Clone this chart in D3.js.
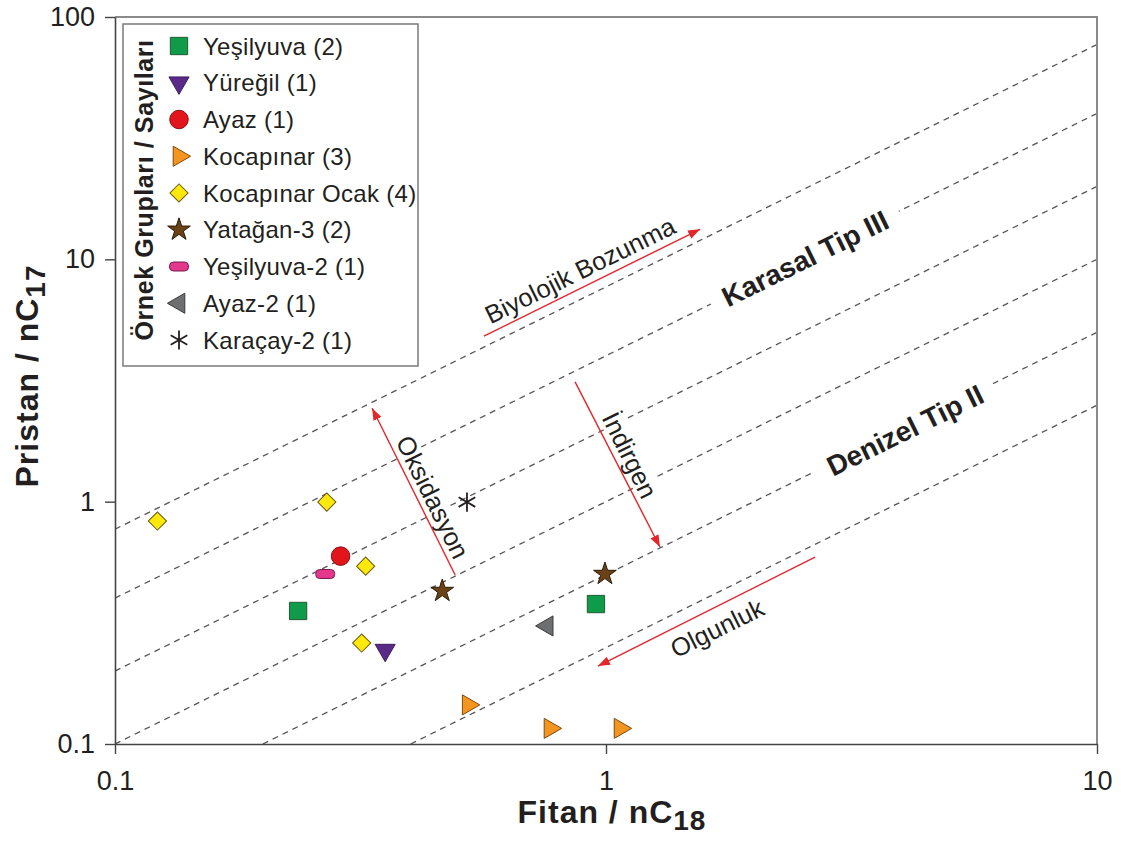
<!DOCTYPE html>
<html lang="tr">
<head>
<meta charset="utf-8">
<script src="https://cdn.jsdelivr.net/npm/d3@7"></script>
<style>
  html, body { margin: 0; padding: 0; background: #fff; }
  svg { display: block; font-family: "Liberation Sans", Arial, Helvetica, sans-serif; }
</style>
</head>
<body>
<svg id="chart" width="1121" height="849"></svg>
<script>
// ---- Data: Fitan/nC18 (x) and Pristan/nC17 (y) per sample group ----
const groupNames = [
  "Yeşilyuva (2)", "Yüreğil (1)", "Ayaz (1)", "Kocapınar (3)", "Kocapınar Ocak (4)",
  "Yatağan-3 (2)", "Yeşilyuva-2 (1)", "Ayaz-2 (1)", "Karaçay-2 (1)"
];
const fitanYesilyuva = [0.236, 0.954];       const pristanYesilyuva = [0.354, 0.378];
const fitanYuregil = [0.355];                const pristanYuregil = [0.244];
const fitanAyaz = [0.288];                   const pristanAyaz = [0.596];
const fitanKocapinar = [0.524, 0.769, 1.068]; const pristanKocapinar = [0.145, 0.116, 0.116];
const fitanKocapinarOcak = [0.122, 0.270, 0.324, 0.318];
const pristanKocapinarOcak = [0.832, 0.996, 0.542, 0.261];
const fitanYatagan3 = [0.464, 0.995];        const pristanYatagan3 = [0.428, 0.503];
const fitanYesilyuva2 = [0.268];             const pristanYesilyuva2 = [0.503];
const fitanAyaz2 = [0.759];                  const pristanAyaz2 = [0.307];
const fitanKaracay2 = [0.521];               const pristanKaracay2 = [0.996];

// Constant Pr/nC17 : Ph/nC18 ratio guide lines
const guideRatios = [7.7, 4, 2, 1, 0.5, 0.25];

// Axis ticks
const xTicks = [0.1, 1, 10];
const yTicks = [0.1, 1, 10, 100];
const xTickLabels = ["0.1", "1", "10"];
const yTickLabels = ["0.1", "1", "10", "100"];

// Interpretation arrows: [x0, y0, x1, y1] in data units, arrow head at the end
const arrowNames = ["Biyolojik Bozunma", "Oksidasyon", "İndirgen", "Olgunluk"];
const arrowFrom = [[0.564, 4.82], [0.493, 0.498], [0.865, 3.12], [2.666, 0.591]];
const arrowTo = [[1.554, 13.3], [0.334, 2.43], [1.288, 0.65], [0.963, 0.2097]];
const arrowLabelAt = [[0.885, 9.03], [0.444, 1.045], [1.119, 1.557], [1.683, 0.301]];

// Field labels
const fieldNames = ["Karasal Tip III", "Denizel Tip II"];
const fieldLabelAt = [[2.543, 10.1], [4.064, 1.975]];

// ---- Styles ----
const groupX = [fitanYesilyuva, fitanYuregil, fitanAyaz, fitanKocapinar, fitanKocapinarOcak,
  fitanYatagan3, fitanYesilyuva2, fitanAyaz2, fitanKaracay2];
const groupY = [pristanYesilyuva, pristanYuregil, pristanAyaz, pristanKocapinar, pristanKocapinarOcak,
  pristanYatagan3, pristanYesilyuva2, pristanAyaz2, pristanKaracay2];
const groupShapes = ["square", "triDown", "circle", "triRight", "diamond", "star", "pill", "triLeft", "asterisk"];
const groupColors = ["#0f9b4a", "#5b2a88", "#e3151c", "#f3951f", "#ffe80c", "#6a4216", "#e3388c", "#6e6f71", "#231f20"];
const groupStrokes = ["#1f5a34", "#3d1d5e", "#8a1014", "#7a4a10", "#6b5a10", "#2c1b08", "#7a1c4a", "#3a3a3a", "#231f20"];

const textColor = "#231f20";
const red = "#e3262b";

const svg = d3.select("#chart");
const W = 1121, H = 849;
const plot = { left: 115, right: 1097, top: 17, bottom: 744 };

const x = d3.scaleLog().domain([0.1, 10]).range([plot.left, plot.right]);
const y = d3.scaleLog().domain([0.1, 100]).range([plot.bottom, plot.top]);

// Screen-space angle of a 1:1 line in log-log space
const lineAngle = Math.atan2(y(10) - y(1), x(10) - x(1)) * 180 / Math.PI; // negative
const perpAngle = lineAngle + 90;

svg.append("rect").attr("width", W).attr("height", H).attr("fill", "#fff");

// Arrow head marker
const defs = svg.append("defs");
defs.append("marker")
  .attr("id", "arrowhead")
  .attr("markerUnits", "userSpaceOnUse")
  .attr("markerWidth", 13).attr("markerHeight", 10)
  .attr("refX", 12).attr("refY", 4.5)
  .attr("orient", "auto")
  .append("path").attr("d", "M0,0 L12,4.5 L0,9 Z").attr("fill", red);

defs.append("clipPath").attr("id", "plotclip")
  .append("rect")
  .attr("x", plot.left).attr("y", plot.top)
  .attr("width", plot.right - plot.left).attr("height", plot.bottom - plot.top);

// ---- Guide lines ----
const guides = svg.append("g").attr("clip-path", "url(#plotclip)");
guideRatios.forEach(k => {
  const x0 = Math.max(0.1, 0.1 / k), x1 = Math.min(10, 100 / k);
  guides.append("line")
    .attr("x1", x(x0)).attr("y1", y(k * x0))
    .attr("x2", x(x1)).attr("y2", y(k * x1))
    .attr("stroke", "#555").attr("stroke-width", 1.3)
    .attr("stroke-dasharray", "6,5");
});

// ---- Frame and axes ----
svg.append("path")
  .attr("d", `M${plot.left},${plot.top}H${plot.right}V${plot.bottom}`)
  .attr("fill", "none").attr("stroke", "#8a8a8a").attr("stroke-width", 2);

const xAxis = svg.append("g")
  .attr("transform", `translate(0,${plot.bottom})`)
  .call(d3.axisBottom(x).tickValues(xTicks).tickFormat((d, i) => xTickLabels[i])
    .tickSize(10).tickSizeOuter(0).tickPadding(17));
const yAxis = svg.append("g")
  .attr("transform", `translate(${plot.left},0)`)
  .call(d3.axisLeft(y).tickValues(yTicks).tickFormat((d, i) => yTickLabels[i])
    .tickSize(10).tickSizeOuter(0).tickPadding(10));

[xAxis, yAxis].forEach(a => {
  a.attr("font-size", null).attr("font-family", null);
  a.select(".domain").attr("stroke", "#444").attr("stroke-width", 1.6);
  a.selectAll(".tick line").attr("stroke", "#444").attr("stroke-width", 1.4);
  a.selectAll(".tick text").attr("fill", textColor).style("font-size", "27px")
    .style("font-family", "'Liberation Sans', Arial, sans-serif");
});

// Axis titles
const xTitle = svg.append("text")
  .attr("x", 612).attr("y", 823)
  .attr("text-anchor", "middle")
  .attr("fill", textColor).style("font-size", "32px").style("font-weight", "bold")
  .style("letter-spacing", "1px");
xTitle.append("tspan").text("Fitan / nC");
xTitle.append("tspan").attr("dy", 7).style("font-size", "28px").text("18");

const yTitle = svg.append("text")
  .attr("transform", "translate(38,376) rotate(-90)")
  .attr("text-anchor", "middle")
  .attr("fill", textColor).style("font-size", "32px").style("font-weight", "bold")
  .style("letter-spacing", "1px");
yTitle.append("tspan").text("Pristan / nC");
yTitle.append("tspan").attr("dy", 7).style("font-size", "28px").text("17");

// ---- Labels with a white backing that interrupts the guide lines ----
function backedLabel(px, py, angle, label, size, weight, pad) {
  const g = svg.append("g").attr("transform", `translate(${px},${py}) rotate(${angle})`);
  const bg = g.append("rect").attr("fill", "#fff");
  const t = g.append("text")
    .attr("text-anchor", "middle").attr("dy", "0.36em")
    .attr("fill", textColor)
    .style("font-size", size + "px").style("font-weight", weight)
    .text(label);
  const b = t.node().getBBox();
  bg.attr("x", b.x - pad).attr("y", b.y + 2)
    .attr("width", b.width + 2 * pad).attr("height", b.height - 4);
  return g;
}

fieldNames.forEach((name, i) => {
  backedLabel(x(fieldLabelAt[i][0]), y(fieldLabelAt[i][1]), lineAngle, name, 28, "bold", 14);
});

const arrowLabelAngles = [lineAngle, perpAngle, perpAngle, lineAngle];
arrowNames.forEach((name, i) => {
  backedLabel(x(arrowLabelAt[i][0]), y(arrowLabelAt[i][1]), arrowLabelAngles[i], name, 25.5, "normal", 3);
});

// ---- Arrows ----
arrowNames.forEach((name, i) => {
  svg.append("line")
    .attr("x1", x(arrowFrom[i][0])).attr("y1", y(arrowFrom[i][1]))
    .attr("x2", x(arrowTo[i][0])).attr("y2", y(arrowTo[i][1]))
    .attr("stroke", red).attr("stroke-width", 1.4)
    .attr("marker-end", "url(#arrowhead)");
});

// ---- Markers ----
function drawMarker(g, shape, fill, stroke) {
  const sym = (type, size, rot) => g.append("path")
    .attr("d", d3.symbol().type(type).size(size)())
    .attr("transform", rot ? `rotate(${rot})` : null)
    .attr("fill", fill).attr("stroke", stroke).attr("stroke-width", 1);
  switch (shape) {
    case "square": sym(d3.symbolSquare, 300); break;
    case "circle": sym(d3.symbolCircle, 270); break;
    case "triDown": sym(d3.symbolTriangle, 175, 180); break;
    case "triRight": sym(d3.symbolTriangle, 175, 90); break;
    case "triLeft": sym(d3.symbolTriangle, 175, -90); break;
    case "diamond": sym(d3.symbolSquare, 165, 45); break;
    case "star": sym(d3.symbolStar, 160); break;
    case "pill":
      g.append("rect").attr("x", -9.5).attr("y", -4.5).attr("width", 19).attr("height", 9)
        .attr("rx", 4).attr("fill", fill).attr("stroke", stroke).attr("stroke-width", 1);
      break;
    case "asterisk":
      g.append("path").attr("d", d3.symbol().type(d3.symbolAsterisk).size(260)())
        .attr("fill", "none").attr("stroke", fill).attr("stroke-width", 1.8);
      break;
  }
}

const points = svg.append("g");
groupNames.forEach((name, i) => {
  groupX[i].forEach((fx, j) => {
    const g = points.append("g")
      .attr("transform", `translate(${x(fx)},${y(groupY[i][j])})`);
    drawMarker(g, groupShapes[i], groupColors[i], groupStrokes[i]);
  });
});

// ---- Legend ----
const legend = svg.append("g");
legend.append("rect")
  .attr("x", 123).attr("y", 24).attr("width", 295).attr("height", 342)
  .attr("fill", "#fff").attr("stroke", "#7a7a7a").attr("stroke-width", 1.5);

legend.append("text")
  .attr("transform", "translate(153,190) rotate(-90)")
  .attr("text-anchor", "middle")
  .attr("fill", textColor).style("font-size", "25px").style("font-weight", "bold")
  .style("letter-spacing", "0.6px")
  .text("Örnek Grupları / Sayıları");

const rowStep = 36.75;
groupNames.forEach((name, i) => {
  const row = legend.append("g").attr("transform", `translate(179,${46 + i * rowStep})`);
  drawMarker(row, groupShapes[i], groupColors[i], groupStrokes[i]);
  row.append("text")
    .attr("x", 24).attr("dy", "0.36em")
    .attr("fill", textColor).style("font-size", "24px")
    .style("letter-spacing", "0.3px")
    .text(name);
});
</script>
</body>
</html>
